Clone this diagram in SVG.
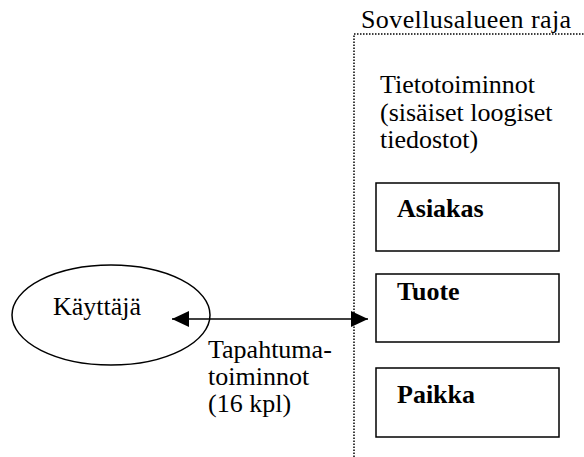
<svg xmlns="http://www.w3.org/2000/svg" width="584" height="457" viewBox="0 0 584 457" font-family="Liberation Serif, DejaVu Serif, serif">
  <style>
    text { font-size: 26px; fill: #000; }
    .b { font-weight: bold; }
    .box { fill: #fff; stroke: #000; stroke-width: 1.5; }
    .bound { fill: none; stroke: #000; stroke-width: 1.5; stroke-dasharray: 1.5 1.5; }
  </style>
  <defs>
    <marker id="arrow" viewBox="0 0 17 16" refX="17" refY="8" markerWidth="17" markerHeight="16" markerUnits="userSpaceOnUse" orient="auto-start-reverse">
      <path d="M0,0 L17,8 L0,16 Z" fill="#000"/>
    </marker>
  </defs>
  <rect width="584" height="457" fill="#fff"/>

  <!-- application boundary and its captions -->
  <g id="boundary">
    <path class="bound" d="M354,457 V34 H584"/>
    <text x="361" y="28" letter-spacing="0.4">Sovellusalueen raja</text>
    <text x="380" y="93">Tietotoiminnot</text>
    <text x="380" y="121">(sisäiset loogiset</text>
    <text x="380" y="148">tiedostot)</text>
  </g>

  <g id="asiakas">
    <rect class="box" x="376" y="183" width="183" height="68"/>
    <text class="b" x="397" y="217">Asiakas</text>
  </g>
  <g id="tuote">
    <rect class="box" x="376" y="274" width="183" height="68"/>
    <text class="b" x="397" y="300">Tuote</text>
  </g>
  <g id="paikka">
    <rect class="box" x="376" y="368" width="183" height="69"/>
    <text class="b" x="397" y="403">Paikka</text>
  </g>

  <g id="kayttaja">
    <ellipse cx="111" cy="315" rx="99" ry="50" fill="#fff" stroke="#000" stroke-width="1.5"/>
    <text x="53" y="315">Käyttäjä</text>
  </g>

  <!-- two-way transaction flow -->
  <g id="connectors">
    <line x1="172" y1="319" x2="368" y2="319" stroke="#000" stroke-width="1.5" marker-start="url(#arrow)" marker-end="url(#arrow)"/>
    <text x="208" y="358">Tapahtuma-</text>
    <text x="208" y="385">toiminnot</text>
    <text x="208" y="412">(16 kpl)</text>
  </g>
</svg>
